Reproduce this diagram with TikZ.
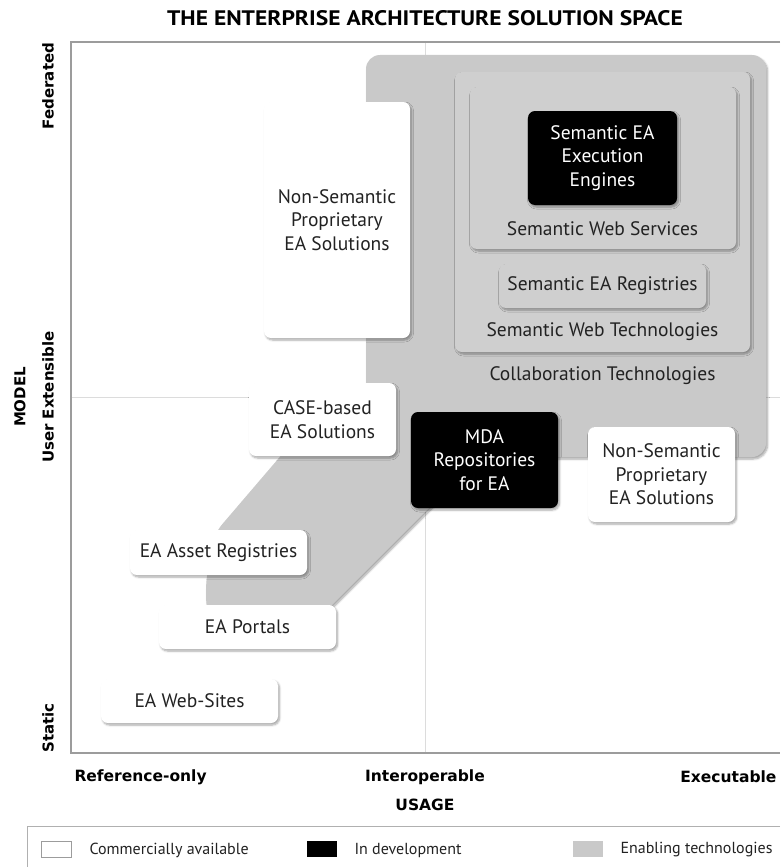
\documentclass[tikz,border=0pt]{standalone}
\usepackage{fontspec}
\setmainfont{PT Sans}
\newfontfamily\verd{DejaVu Sans}
\usetikzlibrary{shadows.blur}
\definecolor{enabling}{HTML}{C9C9C9}
\definecolor{techgray}{HTML}{CFCFCF}
\definecolor{ink}{HTML}{222222}
\definecolor{framegray}{HTML}{9C9C9C}
\definecolor{gridgray}{HTML}{DCDCDC}

\begin{document}
\begin{tikzpicture}[x=1pt,y=-1pt,
   soft/.style={blur shadow={shadow xshift=1.5pt,shadow yshift=-2pt,shadow blur steps=6,shadow opacity=35}},
   box/.style={rounded corners=7pt,inner sep=0pt,align=center,text=ink,
      font=\fontsize{19.5}{23.5}\selectfont,soft},
   comm/.style={box,fill=white},
   dev/.style={box,fill=black,text=white},
   tech/.style={box,fill=techgray},
   techlabel/.style={text=ink,font=\fontsize{19.5}{23.5}\selectfont},
   ylab/.style={rotate=90,font=\verd\bfseries\fontsize{15}{18}\selectfont},
   xlab/.style={font=\verd\bfseries\fontsize{15.5}{18}\selectfont},
   legtext/.style={anchor=west,text=ink,font=\fontsize{16}{19}\selectfont},
   swatch/.style={minimum width=30pt,minimum height=16pt,inner sep=0pt}]
   \useasboundingbox (0,0) rectangle (780,867);

   \node[font=\bfseries\fontsize{21}{25}\selectfont] (title) at (425,18) {\scalebox{1.12}[1]{THE ENTERPRISE ARCHITECTURE SOLUTION SPACE}};

   \draw[gridgray,line width=1pt] (425,42) -- (425,753);
   \draw[gridgray,line width=1pt] (71,397) -- (780,397);
   \draw[framegray,line width=1.5pt] (780,42) -- (71,42) -- (71,753) -- (780,753);

   \fill[enabling,rounded corners=14pt,soft] (366,55) -- (766,55) -- (766,457) -- (480,457)
      -- (301,636) -- (210,636) -- (205,590) -- (213,535) -- (290,445) -- (366,400) -- cycle;

   \node[tech,minimum width=295pt,minimum height=280pt] (swt) at (602.5,212) {};
   \node[tech,minimum width=266pt,minimum height=162pt] (sws) at (603,168) {};
   \node[dev,minimum width=149pt,minimum height=94pt] (engines) at (602.5,158) {Semantic EA\\Execution\\Engines};
   \node[techlabel] (swslab) at (602.5,229) {Semantic Web Services};
   \node[tech,minimum width=207pt,minimum height=44pt] (registries) at (602.5,286) {Semantic EA Registries};
   \node[techlabel] (swtlab) at (602.5,332) {Semantic Web Technologies};
   \node[techlabel] (collab) at (602.5,376) {Collaboration Technologies};

   \node[comm,minimum width=146pt,minimum height=236pt] (nsleft) at (337,220) {Non-Semantic\\Proprietary\\EA Solutions};
   \node[comm,minimum width=147pt,minimum height=73pt] (case) at (322.5,419.5) {CASE-based\\EA Solutions};
   \node[dev,minimum width=147pt,minimum height=96pt] (mda) at (484.5,460) {MDA\\Repositories\\for EA};
   \node[comm,minimum width=147pt,minimum height=95pt] (nsright) at (661.5,474.5) {Non-Semantic\\Proprietary\\EA Solutions};
   \node[comm,minimum width=177pt,minimum height=45pt] (asset) at (218.5,552.5) {EA Asset Registries};
   \node[comm,minimum width=177pt,minimum height=44pt] (portals) at (247.5,627) {EA Portals};
   \node[comm,minimum width=177pt,minimum height=44pt] (websites) at (189.5,701) {EA Web-Sites};

   \node[ylab] (fed) at (48,86) {Federated};
   \node[ylab] (userext) at (48,397) {User Extensible};
   \node[ylab] (static) at (48,728) {Static};
   \node[ylab] (model) at (20,397) {MODEL};

   \node[xlab,anchor=west] (refonly) at (71,777) {Reference-only};
   \node[xlab] (interop) at (425,777) {Interoperable};
   \node[xlab,anchor=east] (exec) at (780,777) {Executable};
   \node[xlab] (usage) at (425,805) {USAGE};

   \draw[gridgray!80!black,line width=1pt] (780,826) -- (27,826) -- (27,867);
   \node[swatch,draw=framegray,fill=white] (lcomm) at (56,849) {};
   \node[legtext] (lcommtext) at (86,850) {Commercially available};
   \node[swatch,fill=black] (ldev) at (322,849) {};
   \node[legtext] (ldevtext) at (351,850) {In development};
   \node[swatch,fill=enabling] (ltech) at (588,849) {};
   \node[legtext] (ltechtext) at (617,850) {Enabling technologies};
\end{tikzpicture}
\end{document}
